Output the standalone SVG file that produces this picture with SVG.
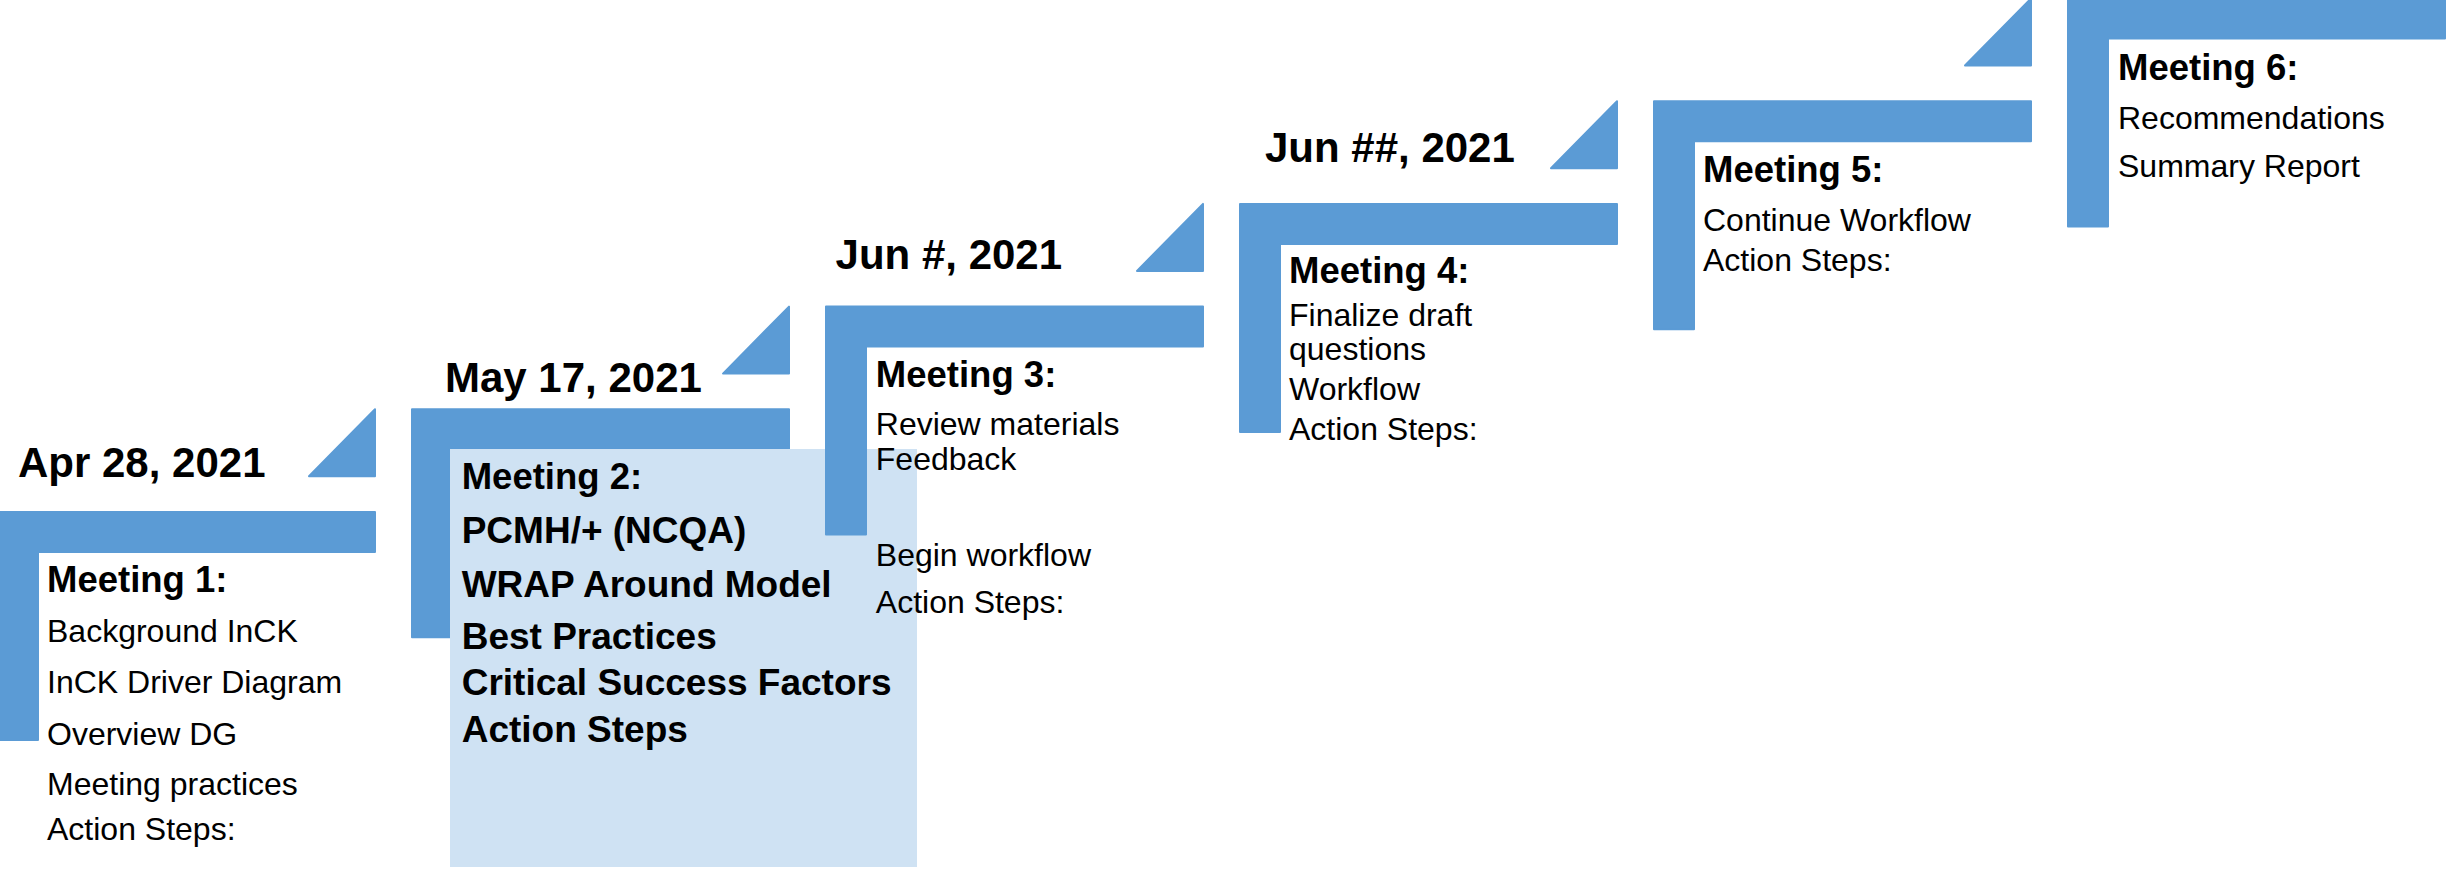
<svg xmlns="http://www.w3.org/2000/svg" xmlns:xlink="http://www.w3.org/1999/xlink" width="2451" height="871" viewBox="0 0 2451 871">
<style>
.shape{fill:#5B9BD5;stroke:#5B9BD5;stroke-width:2;stroke-linejoin:round}
.panel{fill:#CFE2F3}
text{font-family:"Liberation Sans",Arial,sans-serif;fill:#000}
.date{font-size:42px;font-weight:bold}
.head{font-size:36.5px;font-weight:bold}
.item{font-size:37px;font-weight:bold}
.body{font-size:32px}
</style>
<defs>
<path id="ell" d="M1,1 H378 V41 H41 V229 H1 Z"/>
<path id="tri" d="M-67,68 L-1,1 V68 Z"/>
</defs>
<rect width="2451" height="871" fill="#fff"/>
<g id="connectors">
<use xlink:href="#tri" class="shape" x="376" y="408.3"/>
<use xlink:href="#tri" class="shape" x="790" y="305.6"/>
<use xlink:href="#tri" class="shape" x="1204" y="202.9"/>
<use xlink:href="#tri" class="shape" x="1618" y="100.2"/>
<use xlink:href="#tri" class="shape" x="2032" y="-2.5"/>
</g>
<g id="meeting1">
<use xlink:href="#ell" class="shape" x="-3" y="511"/>
<text class="date" x="18" y="477">Apr 28, 2021</text>
<text class="head" x="47" y="592">Meeting 1:</text>
<text class="body" x="47" y="642">Background InCK</text>
<text class="body" x="47" y="693">InCK Driver Diagram</text>
<text class="body" x="47" y="745">Overview DG</text>
<text class="body" x="47" y="795">Meeting practices</text>
<text class="body" x="47" y="840">Action Steps:</text>
</g>
<g id="meeting2">
<use xlink:href="#ell" class="shape" x="411" y="408.3"/>
<rect class="panel" x="450" y="449" width="467" height="418"/>
<text class="date" x="445" y="392">May 17, 2021</text>
<text class="head" x="461.7" y="489">Meeting 2:</text>
<text class="item" x="461.7" y="543">PCMH/+ (NCQA)</text>
<text class="item" x="461.7" y="597">WRAP Around Model</text>
<text class="item" x="461.7" y="649">Best Practices</text>
<text class="item" x="461.7" y="695">Critical Success Factors</text>
<text class="item" x="461.7" y="742">Action Steps</text>
</g>
<g id="meeting3">
<use xlink:href="#ell" class="shape" x="825" y="305.6"/>
<text class="date" x="835.6" y="269">Jun #, 2021</text>
<text class="head" x="875.8" y="387">Meeting 3:</text>
<text class="body" x="875.8" y="435">Review materials</text>
<text class="body" x="875.8" y="470">Feedback</text>
<text class="body" x="875.8" y="566">Begin workflow</text>
<text class="body" x="875.8" y="613">Action Steps:</text>
</g>
<g id="meeting4">
<use xlink:href="#ell" class="shape" x="1239" y="202.9"/>
<text class="date" x="1265" y="162">Jun ##, 2021</text>
<text class="head" x="1289" y="283">Meeting 4:</text>
<text class="body" x="1289" y="326">Finalize draft</text>
<text class="body" x="1289" y="360">questions</text>
<text class="body" x="1289" y="400">Workflow</text>
<text class="body" x="1289" y="440">Action Steps:</text>
</g>
<g id="meeting5">
<use xlink:href="#ell" class="shape" x="1653" y="100.2"/>
<text class="head" x="1703" y="182">Meeting 5:</text>
<text class="body" x="1703" y="231">Continue Workflow</text>
<text class="body" x="1703" y="271">Action Steps:</text>
</g>
<g id="meeting6">
<use xlink:href="#ell" class="shape" x="2067" y="-2.5"/>
<text class="head" x="2118" y="80">Meeting 6:</text>
<text class="body" x="2118" y="129">Recommendations</text>
<text class="body" x="2118" y="177">Summary Report</text>
</g>
</svg>
